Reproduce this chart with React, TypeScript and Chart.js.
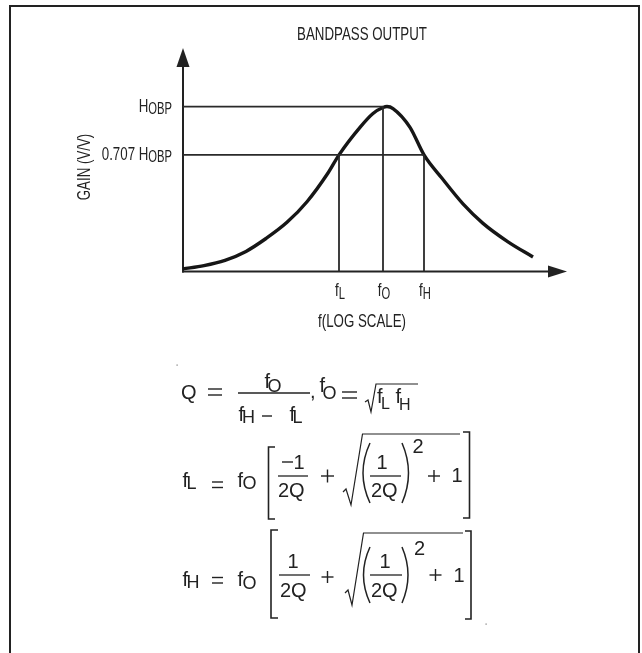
import React, { useEffect, useRef } from "react";
import { Chart, registerables } from "chart.js";

Chart.register(...registerables);

// ---- DATA ----
// x: frequency position on the log axis, in decades relative to f0
// y: gain normalised to H_OBP
const freqLog = [-2.0, -1.79, -1.58, -1.37, -1.17, -0.96, -0.76, -0.55, -0.44, -0.23, -0.1, 0.0, 0.04, 0.1, 0.27, 0.41, 0.59, 0.8, 1.0, 1.25, 1.5];
const gain = [0.016, 0.036, 0.068, 0.122, 0.2, 0.298, 0.423, 0.597, 0.707, 0.874, 0.958, 0.994, 1.0, 0.988, 0.874, 0.707, 0.565, 0.41, 0.292, 0.18, 0.088];

const F_L = -0.44;
const F_0 = 0;
const F_H = 0.41;
const H_OBP = 1;
const H_707 = 0.707;

const X_MIN = -2;
const X_MAX = 1.84;
const Y_MAX = 1.355;

const tickPositions = [F_L, F_0, F_H];
const tickSubs = ["L", "O", "H"];
const gainLevels = [H_OBP, H_707];
const gainPrefixes = ["", "0.707 "];

const TITLE = "BANDPASS OUTPUT";
const X_TITLE = "f(LOG SCALE)";
const Y_TITLE = "GAIN (V/V)";

// ---- drawing helpers ----
const INK = "#222";
const CX = 0.7;
const condFont = (s: number) => `${s}px "Liberation Sans", Arial, sans-serif`;
const mathFont = (s: number) => `${s}px "Liberation Sans", Arial, sans-serif`;

function condW(ctx: CanvasRenderingContext2D, t: string, s: number) {
  ctx.font = condFont(s);
  return ctx.measureText(t).width * CX;
}
function condText(ctx: CanvasRenderingContext2D, t: string, x: number, y: number, s: number) {
  ctx.save();
  ctx.font = condFont(s);
  ctx.textAlign = "left";
  ctx.textBaseline = "alphabetic";
  ctx.translate(x, y);
  ctx.scale(CX, 1);
  ctx.fillText(t, 0, 0);
  ctx.restore();
}
type Part = [string, number, number];
function condParts(ctx: CanvasRenderingContext2D, parts: Part[], x: number, y: number, align: string) {
  const ws = parts.map((p) => condW(ctx, p[0], p[1]));
  const total = ws.reduce((a, b) => a + b, 0);
  let cx = align === "right" ? x - total : align === "center" ? x - total / 2 : x;
  parts.forEach((p, i) => {
    condText(ctx, p[0], cx, y + p[2], p[1]);
    cx += ws[i];
  });
}
function tx(ctx: CanvasRenderingContext2D, t: string, x: number, y: number, s: number) {
  ctx.font = mathFont(s);
  ctx.textAlign = "left";
  ctx.textBaseline = "alphabetic";
  ctx.fillText(t, x, y);
}
function ln(ctx: CanvasRenderingContext2D, pts: number[][], w: number) {
  ctx.lineWidth = w;
  ctx.beginPath();
  ctx.moveTo(pts[0][0], pts[0][1]);
  for (let i = 1; i < pts.length; i++) ctx.lineTo(pts[i][0], pts[i][1]);
  ctx.stroke();
}
function eq(ctx: CanvasRenderingContext2D, x1: number, x2: number, ya: number, yb: number) {
  ln(ctx, [[x1, ya], [x2, ya]], 1.4);
  ln(ctx, [[x1, yb], [x2, yb]], 1.4);
}
function plus(ctx: CanvasRenderingContext2D, cx: number, cy: number, h: number) {
  ln(ctx, [[cx - h, cy], [cx + h, cy]], 1.4);
  ln(ctx, [[cx, cy - h], [cx, cy + h]], 1.4);
}
function paren(ctx: CanvasRenderingContext2D, x1: number, x2: number, y1: number, y2: number, left: boolean) {
  ctx.lineWidth = 1.5;
  ctx.beginPath();
  if (left) {
    ctx.moveTo(x2, y1);
    ctx.quadraticCurveTo(x1 - 4, (y1 + y2) / 2, x2, y2);
  } else {
    ctx.moveTo(x1, y1);
    ctx.quadraticCurveTo(x2 + 4, (y1 + y2) / 2, x1, y2);
  }
  ctx.stroke();
}
function bracket(ctx: CanvasRenderingContext2D, x: number, xs: number, y1: number, y2: number) {
  ln(ctx, [[xs, y1], [x, y1], [x, y2], [xs, y2]], 1.6);
}

function drawFormulas(ctx: CanvasRenderingContext2D) {
  ctx.save();
  ctx.fillStyle = INK;
  ctx.strokeStyle = INK;
  const M = 20;
  const S = 18;

  // Q = fO / (fH - fL),  fO = sqrt(fL fH)
  tx(ctx, "Q", 181, 398.5, M);
  eq(ctx, 208, 222, 389, 395);
  tx(ctx, "f", 264.5, 388, M);
  tx(ctx, "O", 267.5, 392, S);
  ln(ctx, [[238, 393], [310, 393]], 1.3);
  tx(ctx, "f", 238.5, 420.5, M);
  tx(ctx, "H", 242, 422.5, S);
  ln(ctx, [[262, 416], [272, 416]], 1.4);
  tx(ctx, "f", 289.5, 420.5, M);
  tx(ctx, "L", 292.5, 422.5, S);
  tx(ctx, ",", 310, 398, M);
  tx(ctx, "f", 319.5, 392, M);
  tx(ctx, "O", 322.5, 399, S);
  eq(ctx, 342, 357, 392, 398);
  ln(ctx, [[365, 402], [368, 400], [371, 412], [376, 384], [418, 384]], 1.2);
  tx(ctx, "f", 377, 403, M);
  tx(ctx, "L", 381, 408.5, S - 2);
  tx(ctx, "f", 395.5, 403, M);
  tx(ctx, "H", 399, 409.5, S - 2);

  // fL = fO [ -1/2Q + sqrt((1/2Q)^2 + 1) ]
  tx(ctx, "f", 182.5, 487, M);
  tx(ctx, "L", 186.5, 488.5, S);
  eq(ctx, 212, 223, 482, 487.5);
  tx(ctx, "f", 237.5, 487, M);
  tx(ctx, "O", 242.5, 489, S);
  bracket(ctx, 268.5, 275, 447, 519);
  ln(ctx, [[282, 462], [293, 462]], 1.4);
  tx(ctx, "1", 293.5, 469, M);
  ln(ctx, [[278, 476], [308, 476]], 1.3);
  tx(ctx, "2Q", 278, 497, M);
  plus(ctx, 327.5, 476, 6.5);
  ln(ctx, [[343, 492], [346, 489], [351, 505], [362.5, 434], [460, 434]], 1.2);
  paren(ctx, 360, 370, 443, 503, true);
  tx(ctx, "1", 376.5, 469, M);
  ln(ctx, [[370, 476], [401, 476]], 1.3);
  tx(ctx, "2Q", 371, 497, M);
  paren(ctx, 402, 411, 443, 503, false);
  tx(ctx, "2", 412.5, 452.5, M);
  plus(ctx, 434, 476, 6);
  tx(ctx, "1", 451.5, 482, M);
  bracket(ctx, 469.5, 463, 432, 518);

  // fH = fO [ 1/2Q + sqrt((1/2Q)^2 + 1) ]
  tx(ctx, "f", 182.5, 586, M);
  tx(ctx, "H", 186.5, 588, S);
  eq(ctx, 212, 223, 577.5, 583);
  tx(ctx, "f", 237.5, 586, M);
  tx(ctx, "O", 242.5, 588.5, S);
  bracket(ctx, 271, 278, 530, 618);
  tx(ctx, "1", 287.5, 568, M);
  ln(ctx, [[279, 575], [310, 575]], 1.3);
  tx(ctx, "2Q", 280, 596.5, M);
  plus(ctx, 327.5, 577, 6);
  ln(ctx, [[345, 593], [348, 590], [352, 605], [363.5, 533], [463, 533]], 1.2);
  paren(ctx, 361, 370, 547, 603, true);
  tx(ctx, "1", 379.5, 568, M);
  ln(ctx, [[370, 575], [402, 575]], 1.3);
  tx(ctx, "2Q", 371, 596.5, M);
  paren(ctx, 402, 410, 547, 603, false);
  tx(ctx, "2", 414, 555, M);
  plus(ctx, 435.5, 575, 6);
  tx(ctx, "1", 453.5, 582, M);
  bracket(ctx, 471, 465, 531, 619);

  // stray specks from the scan
  ctx.fillStyle = "#777";
  ctx.fillRect(176.5, 364.5, 1.2, 1.2);
  ctx.fillRect(485.5, 623.5, 1.2, 1.2);
  ctx.restore();
}

const diagramPlugin = {
  id: "diagram",
  beforeDatasetsDraw(chart: any) {
    const ctx: CanvasRenderingContext2D = chart.ctx;
    const a = chart.chartArea;
    ctx.save();
    ctx.strokeStyle = INK;
    ctx.fillStyle = INK;
    // frame
    ln(ctx, [[10, 653], [10, 6], [639, 6], [639, 653]], 2);
    // y axis with arrow
    const x0 = chart.scales.x.getPixelForValue(X_MIN);
    const y0 = chart.scales.y.getPixelForValue(0);
    ln(ctx, [[x0, y0 + 1], [x0, a.top + 19]], 2);
    ctx.beginPath();
    ctx.moveTo(x0, a.top);
    ctx.lineTo(x0 - 6.5, a.top + 19);
    ctx.lineTo(x0 + 6.5, a.top + 19);
    ctx.closePath();
    ctx.fill();
    // x axis with arrow
    ln(ctx, [[x0 - 1, y0], [a.right - 19, y0]], 2);
    ctx.beginPath();
    ctx.moveTo(a.right, y0);
    ctx.lineTo(a.right - 19, y0 - 6);
    ctx.lineTo(a.right - 19, y0 + 6);
    ctx.closePath();
    ctx.fill();
    ctx.restore();
  },
  afterDatasetsDraw(chart: any) {
    const ctx: CanvasRenderingContext2D = chart.ctx;
    const xs = chart.scales.x;
    const ys = chart.scales.y;
    ctx.save();
    ctx.fillStyle = INK;
    // title
    condParts(ctx, [[TITLE, 19, 0]], 362, 40, "center");
    // y title (rotated)
    ctx.save();
    ctx.translate(90, 167);
    ctx.rotate(-Math.PI / 2);
    condParts(ctx, [[Y_TITLE, 19, 0]], 0, 0, "center");
    ctx.restore();
    // gain level labels
    gainLevels.forEach((g, i) => {
      const py = ys.getPixelForValue(g);
      const parts: Part[] = [];
      if (gainPrefixes[i]) parts.push([gainPrefixes[i], 19, 0]);
      parts.push(["H", 19, 0]);
      parts.push(["OBP", 16, 2]);
      condParts(ctx, parts, 172, py + 5.5, "right");
    });
    // frequency labels
    const y0 = ys.getPixelForValue(0);
    tickPositions.forEach((f, i) => {
      const px = xs.getPixelForValue(f);
      condParts(ctx, [["f", 19, 0], [tickSubs[i], 16, 2.5]], px + 1, y0 + 24.5, "center");
    });
    condParts(ctx, [[X_TITLE, 19, 0]], 362, 327, "center");
    drawFormulas(ctx);
    ctx.restore();
  },
};

export default function App() {
  const ref = useRef<HTMLCanvasElement | null>(null);
  useEffect(() => {
    if (!ref.current) return;
    const refLine = (pts: { x: number; y: number }[]) => ({
      data: pts,
      borderColor: "#2a2a2a",
      borderWidth: 1.8,
      pointRadius: 0,
      tension: 0,
      clip: false as any,
    });
    const chart = new Chart(ref.current, {
      type: "line",
      data: {
        datasets: [
          refLine([{ x: X_MIN, y: H_OBP }, { x: F_0, y: H_OBP }]),
          refLine([{ x: X_MIN, y: H_707 }, { x: F_H, y: H_707 }]),
          refLine([{ x: F_L, y: 0 }, { x: F_L, y: H_707 }]),
          refLine([{ x: F_0, y: 0 }, { x: F_0, y: H_OBP }]),
          refLine([{ x: F_H, y: 0 }, { x: F_H, y: H_707 }]),
          {
            data: freqLog.map((f, i) => ({ x: f, y: gain[i] })),
            borderColor: "#161616",
            borderWidth: 3.4,
            pointRadius: 0,
            cubicInterpolationMode: "monotone",
            borderCapStyle: "butt",
            clip: false as any,
          } as any,
        ],
      },
      options: {
        responsive: false,
        animation: false,
        events: [],
        layout: { padding: { left: 183, right: 75, top: 48, bottom: 381.5 } },
        scales: {
          x: { type: "linear", min: X_MIN, max: X_MAX, display: false },
          y: { type: "linear", min: 0, max: Y_MAX, display: false },
        },
        plugins: { legend: { display: false }, tooltip: { enabled: false } },
      },
      plugins: [diagramPlugin],
    });
    return () => chart.destroy();
  }, []);
  return (
    <div style={{ position: "absolute", left: 0, top: 0, width: 642, height: 653, background: "#fff" }}>
      <canvas ref={ref} width={642} height={653} style={{ display: "block", width: 642, height: 653 }} />
    </div>
  );
}
